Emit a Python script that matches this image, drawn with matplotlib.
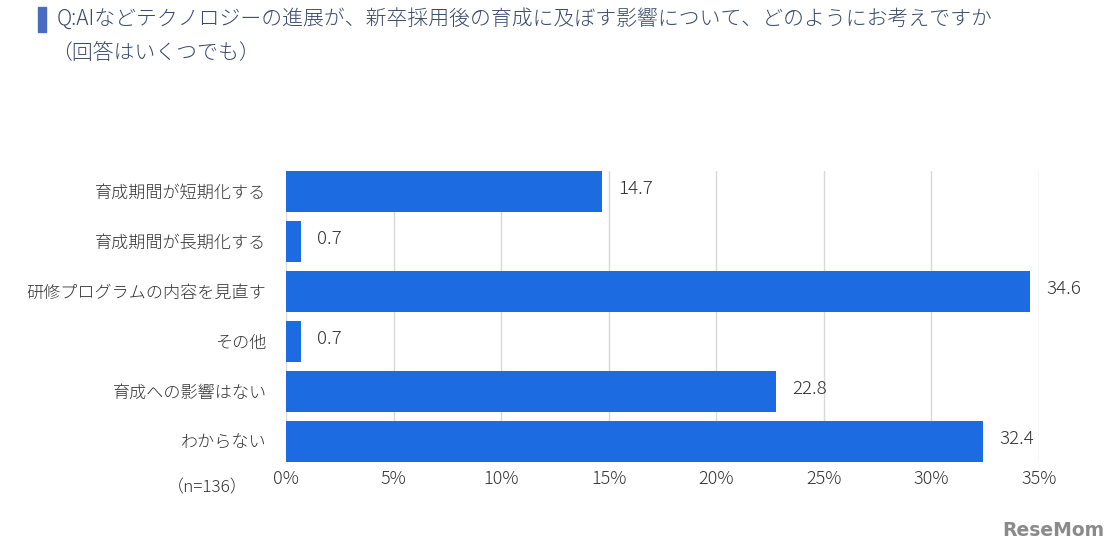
import matplotlib.pyplot as plt
from matplotlib.patches import Rectangle

plt.rcParams['font.family'] = ['Noto Sans CJK JP', 'DejaVu Sans']
plt.rcParams['font.weight'] = 'light'

categories = ['育成期間が短期化する', '育成期間が長期化する', '研修プログラムの内容を見直す',
              'その他', '育成への影響はない', 'わからない']
values = [14.7, 0.7, 34.6, 0.7, 22.8, 32.4]
xticks = [0, 5, 10, 15, 20, 25, 30, 35]
xtick_labels = ['0%', '5%', '10%', '15%', '20%', '25%', '30%', '35%']

bar_color = '#1c6be0'
text_color = '#333333'

fig = plt.figure(figsize=(11.18, 5.57), dpi=100)
ax = fig.add_axes([0.2558, 0.1706, 0.6735, 0.5224])

ypos = list(range(len(categories)))
ax.barh(ypos, values, height=0.82, color=bar_color, zorder=3)
for y, v in zip(ypos, values):
    ax.text(v + 0.75, y - 0.05, f'{v:.1f}', va='center', ha='left',
            fontsize=13.5, color=text_color)

ax.set_ylim(len(categories) - 0.59, -0.41)
ax.set_xlim(0, 35)
ax.set_yticks(ypos)
ax.set_yticklabels(categories, fontsize=12.3, color=text_color)
ax.set_xticks(xticks)
ax.set_xticklabels(xtick_labels, fontsize=13, color=text_color)
ax.tick_params(axis='both', length=0)
ax.tick_params(axis='y', pad=14)
ax.tick_params(axis='x', pad=6)
ax.grid(axis='x', color='#d9d9d9', linewidth=1, zorder=0)
for s in ax.spines.values():
    s.set_visible(False)

fig.text(0.222, 0.1706 - 0.047, '（n=136）', ha='right', va='center',
         fontsize=12.3, color=text_color)

# title with accent bar
fig.patches.append(Rectangle((0.034, 0.943), 0.0075, 0.044, transform=fig.transFigure,
                             color='#4a6cc0'))
fig.text(0.051, 0.965, 'Q:AIなどテクノロジーの進展が、新卒採用後の育成に及ぼす影響について、どのようにお考えですか',
         ha='left', va='center', fontsize=15, color='#3a4a6b')
fig.text(0.046, 0.905, '（回答はいくつでも）', ha='left', va='center',
         fontsize=15, color='#3a4a6b')

fig.text(0.988, 0.048, 'ReseMom', ha='right', va='center', fontsize=13.5,
         fontweight='bold', color='#8a8a8a', family='DejaVu Sans')

fig.savefig('out.png', dpi=100, facecolor='white')
